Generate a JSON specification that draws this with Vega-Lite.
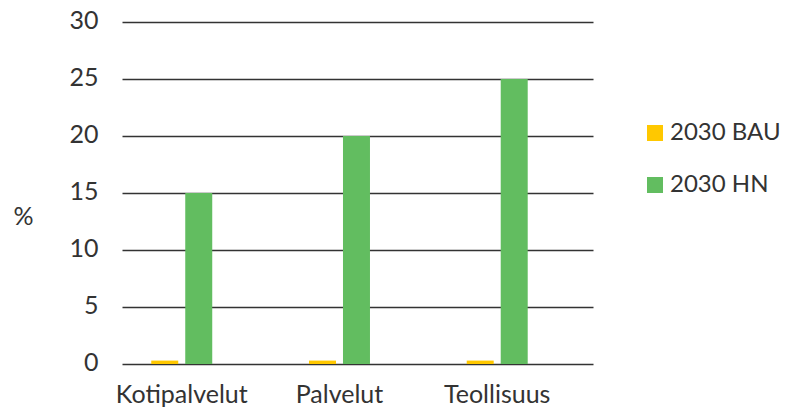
{
  "$schema": "https://vega.github.io/schema/vega-lite/v6.json",
  "autosize": {"type": "none"},
  "width": 471,
  "height": 342,
  "padding": {"left": 122, "top": 22, "right": 192, "bottom": 45},
  "background": "white",
  "data": {
    "values": [
      {"sektori": "Kotipalvelut", "skenaario": "2030 BAU", "arvo": 0.3},
      {"sektori": "Kotipalvelut", "skenaario": "2030 HN", "arvo": 15},
      {"sektori": "Palvelut", "skenaario": "2030 BAU", "arvo": 0.3},
      {"sektori": "Palvelut", "skenaario": "2030 HN", "arvo": 20},
      {"sektori": "Teollisuus", "skenaario": "2030 BAU", "arvo": 0.3},
      {"sektori": "Teollisuus", "skenaario": "2030 HN", "arvo": 25}
    ]
  },
  "mark": {"type": "bar"},
  "encoding": {
    "x": {
      "field": "sektori",
      "type": "nominal",
      "sort": ["Kotipalvelut", "Palvelut", "Teollisuus"],
      "scale": {"paddingInner": 0.25, "paddingOuter": 0.118, "align": 0.016},
      "axis": {
        "title": null,
        "labelAngle": 0,
        "labelFont": "Lato",
        "labelFontSize": 25,
        "labelColor": "#333333",
        "labelPadding": 18,
        "ticks": false,
        "domain": false
      }
    },
    "xOffset": {
      "field": "skenaario",
      "type": "nominal",
      "scale": {"paddingInner": 0.206, "paddingOuter": 0.843}
    },
    "y": {
      "field": "arvo",
      "type": "quantitative",
      "scale": {"domain": [0, 30], "nice": false},
      "axis": {
        "title": "%",
        "titleAngle": 0,
        "titleFont": "Lato",
        "titleFontSize": 25,
        "titleFontWeight": "normal",
        "titleColor": "#333333",
        "titleX": -109,
        "titleY": 194,
        "titleAlign": "left",
        "titleBaseline": "middle",
        "values": [0, 5, 10, 15, 20, 25, 30],
        "labelFont": "Lato",
        "labelFontSize": 25,
        "labelColor": "#333333",
        "labelPadding": 24,
        "labelOffset": -2,
        "ticks": false,
        "domain": false,
        "grid": true,
        "gridColor": "#333333",
        "gridWidth": 1.5,
        "gridOpacity": 1
      }
    },
    "color": {
      "field": "skenaario",
      "type": "nominal",
      "scale": {"domain": ["2030 BAU", "2030 HN"], "range": ["#FFC800", "#62BD60"]},
      "legend": {
        "title": null,
        "orient": "none",
        "legendX": 521,
        "legendY": 99,
        "symbolType": "square",
        "symbolSize": 256,
        "symbolStrokeWidth": 0,
        "labelFont": "Lato",
        "labelFontSize": 24,
        "labelColor": "#333333",
        "labelOffset": 3,
        "rowPadding": 28
      }
    }
  },
  "config": {"view": {"stroke": null}}
}
